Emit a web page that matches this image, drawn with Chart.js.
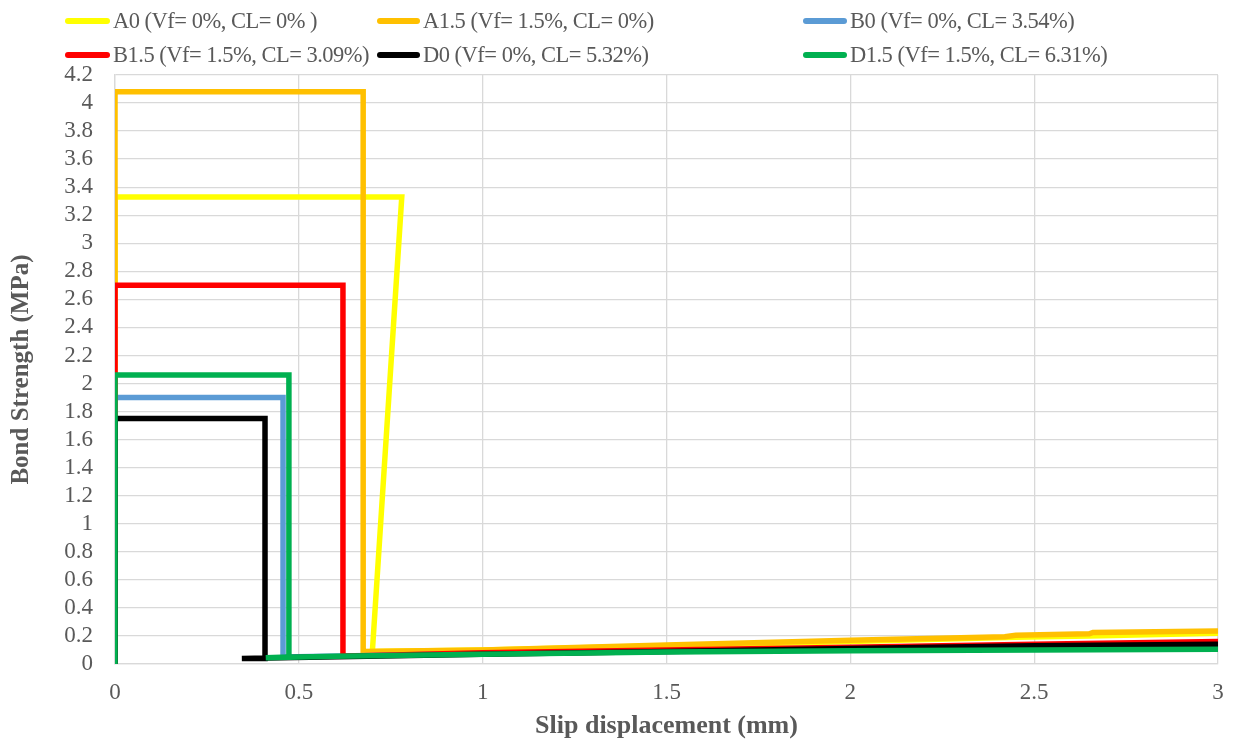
<!DOCTYPE html>
<html>
<head>
<meta charset="utf-8">
<script src="https://cdn.jsdelivr.net/npm/chart.js@4.4.1/dist/chart.umd.min.js"></script>
<style>
  html, body { margin: 0; padding: 0; background: #fff; }
  #wrap { position: relative; width: 1251px; height: 744px; }
  #c { position: absolute; left: 0; top: 0; }
  .lg { position: absolute; font-family: "Liberation Serif", "Times New Roman", serif; font-size: 22.5px; letter-spacing: -0.5px; color: #595959; white-space: nowrap; line-height: 24px; }
  .sw { position: absolute; height: 6px; border-radius: 3px; }
</style>
</head>
<body>
<div id="wrap">
  <canvas id="c" width="1251" height="744"></canvas>
  <div id="legend"></div>
</div>
<script>
// ---- Data (slip mm, bond strength MPa) ----
const seriesNames = [
  "A0 (Vf= 0%, CL= 0% )",
  "A1.5 (Vf= 1.5%, CL= 0%)",
  "B0 (Vf= 0%, CL= 3.54%)",
  "B1.5 (Vf= 1.5%, CL= 3.09%)",
  "D0 (Vf= 0%, CL= 5.32%)",
  "D1.5 (Vf= 1.5%, CL= 6.31%)"
];
const seriesColors = ["#FFFF00", "#FFC000", "#5B9BD5", "#FF0000", "#000000", "#00B050"];

const a0X = [0, 0, 0.78, 0.70, 1.0, 1.5, 2.0, 2.45, 2.65, 3.0];
const a0Y = [0, 3.33, 3.33, 0.09, 0.10, 0.13, 0.16, 0.19, 0.20, 0.22];

const a15X = [0, 0, 0.675, 0.675, 1.0, 1.5, 2.0, 2.42, 2.45, 2.65, 2.66, 3.0];
const a15Y = [0, 4.08, 4.08, 0.09, 0.10, 0.135, 0.17, 0.195, 0.205, 0.215, 0.225, 0.235];

const b0X = [0, 0, 0.457, 0.457, 1.0, 1.5, 2.0, 2.5, 3.0];
const b0Y = [0, 1.90, 1.90, 0.05, 0.075, 0.09, 0.10, 0.11, 0.12];

const b15X = [0, 0, 0.62, 0.62, 1.0, 1.5, 2.0, 2.5, 3.0];
const b15Y = [0, 2.70, 2.70, 0.055, 0.08, 0.10, 0.12, 0.14, 0.16];

const d0X = [0, 0, 0.408, 0.408, 0.345, 0.45, 1.0, 1.5, 2.0, 2.5, 3.0];
const d0Y = [0, 1.75, 1.75, 0.04, 0.04, 0.045, 0.07, 0.09, 0.11, 0.13, 0.14];

const d15X = [0, 0, 0.473, 0.473, 0.41, 0.6, 1.0, 1.5, 2.0, 2.5, 3.0];
const d15Y = [0, 2.06, 2.06, 0.05, 0.045, 0.055, 0.07, 0.085, 0.095, 0.10, 0.105];

const xTicks = [0, 0.5, 1, 1.5, 2, 2.5, 3];
const yTicks = [0, 0.2, 0.4, 0.6, 0.8, 1, 1.2, 1.4, 1.6, 1.8, 2, 2.2, 2.4, 2.6, 2.8, 3, 3.2, 3.4, 3.6, 3.8, 4, 4.2];

const xTitle = "Slip displacement (mm)";
const yTitle = "Bond Strength (MPa)";

// ---- Build ----
const xs = [a0X, a15X, b0X, b15X, d0X, d15X];
const ys = [a0Y, a15Y, b0Y, b15Y, d0Y, d15Y];

const datasets = seriesNames.map((name, i) => ({
  label: name,
  data: xs[i].map((x, k) => ({ x: x, y: ys[i][k] })),
  borderColor: seriesColors[i],
  backgroundColor: seriesColors[i],
  borderWidth: 5.5,
  showLine: true,
  pointRadius: 0,
  pointHoverRadius: 0,
  tension: 0,
  fill: false,
  order: seriesNames.length - i
}));

// HTML legend in 3 columns
const legendCols = [[65, 113], [377, 423], [803, 850]];
const legendRows = [21, 55];
const legendEl = document.getElementById('legend');
seriesNames.forEach((name, i) => {
  const col = legendCols[i % 3], row = legendRows[Math.floor(i / 3)];
  const sw = document.createElement('div');
  sw.className = 'sw';
  sw.style.left = col[0] + 'px';
  sw.style.width = (col[1] - col[0] - 3) + 'px';
  sw.style.top = (row - 3) + 'px';
  sw.style.background = seriesColors[i];
  legendEl.appendChild(sw);
  const t = document.createElement('div');
  t.className = 'lg';
  t.textContent = name;
  t.style.left = col[1] + 'px';
  t.style.top = (row - 12) + 'px';
  legendEl.appendChild(t);
});

const serif = "'Liberation Serif', 'Times New Roman', serif";
const tickFont = { family: serif, size: 23, lineHeight: 1.0 };

new Chart(document.getElementById('c'), {
  type: 'scatter',
  data: { datasets: datasets },
  options: {
    responsive: false,
    animation: false,
    events: [],
    layout: { padding: { left: 0, top: 75, right: 33, bottom: 0 } },
    plugins: { legend: { display: false }, tooltip: { enabled: false } },
    scales: {
      x: {
        type: 'linear',
        min: 0, max: 3,
        afterBuildTicks: (s) => { s.ticks = xTicks.map(v => ({ value: v })); },
        afterFit: (s) => { s.height = 80; },
        ticks: { color: '#595959', font: tickFont, padding: 17, autoSkip: false, maxRotation: 0, callback: (v) => String(v) },
        grid: { color: '#D9D9D9', lineWidth: 1.3, drawTicks: false },
        border: { color: '#D9D9D9', width: 1.3 },
        title: { display: true, text: xTitle, color: '#595959', font: { family: serif, size: 26, weight: 'bold' }, padding: { top: 0, bottom: 2 } }
      },
      y: {
        type: 'linear',
        min: 0, max: 4.2,
        afterBuildTicks: (s) => { s.ticks = yTicks.map(v => ({ value: v })); },
        afterFit: (s) => { s.width = 115; },
        ticks: { color: '#595959', font: tickFont, padding: 22, autoSkip: false, callback: (v) => String(Number(v.toFixed(1))) },
        grid: { color: '#D9D9D9', lineWidth: 1.3, drawTicks: false },
        border: { color: '#D9D9D9', width: 1.3 },
        title: { display: true, text: yTitle, color: '#595959', font: { family: serif, size: 25, weight: 'bold' }, padding: { top: 7, bottom: 0 } }
      }
    }
  }
});
</script>
</body>
</html>
